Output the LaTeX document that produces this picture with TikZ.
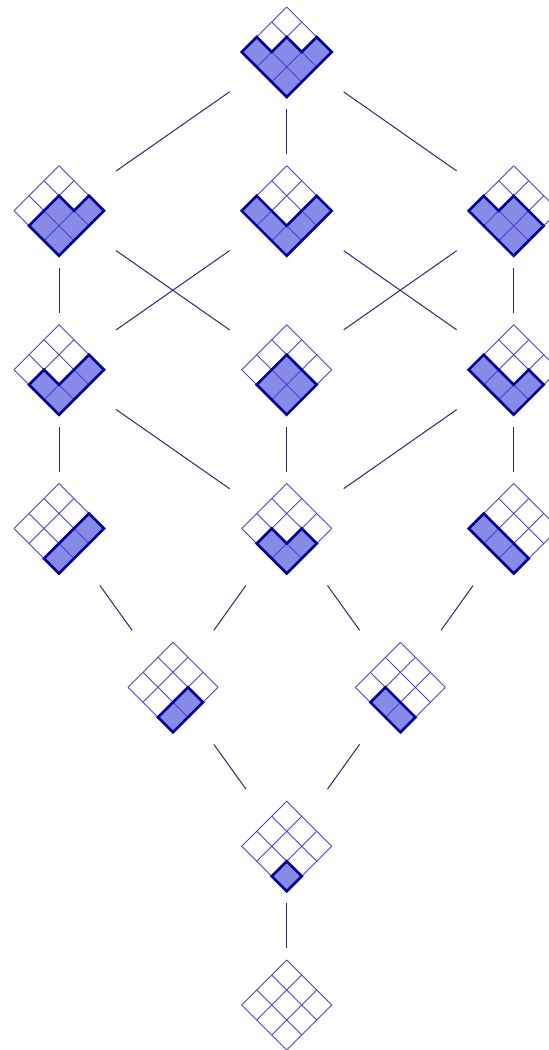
\documentclass[tikz,border=0pt]{standalone}

\definecolor{idealfill}{RGB}{136,138,232}
\definecolor{idealdraw}{RGB}{0,0,150}
\definecolor{gridblue}{RGB}{70,70,205}
\definecolor{hassecol}{RGB}{40,40,120}

\tikzset{
  box/.style={minimum size=57pt, inner sep=0pt, outer sep=0pt},
  hasse/.style={color=hassecol, line width=0.5pt},
  cellline/.style={color=gridblue, line width=0.45pt},
  idealline/.style={color=idealdraw, line width=1.3pt, line join=miter}
}

% thin 3x3 grid in cell coordinates
\newcommand{\cellgrid}{%
  \foreach \k in {0,...,3} {
    \draw[cellline] (\k,0) -- (\k,3);
    \draw[cellline] (0,\k) -- (3,\k);
  }}

% #1 node, #2 outline of the ideal in cell coordinates
\newcommand{\ideal}[2]{%
  \begin{scope}[shift={(#1)}, yshift=-22.5pt, x={(7.5pt,7.5pt)}, y={(-7.5pt,7.5pt)}]
    \fill[idealfill] #2 -- cycle;
    \cellgrid
    \draw[idealline] #2 -- cycle;
  \end{scope}}

\newcommand{\emptyideal}[1]{%
  \begin{scope}[shift={(#1)}, yshift=-22.5pt, x={(7.5pt,7.5pt)}, y={(-7.5pt,7.5pt)}]
    \cellgrid
  \end{scope}}

\begin{document}
\begin{tikzpicture}[x=0.5pt, y=0.5pt]
    \useasboundingbox (0,0) rectangle (549,-1050);

    \node[box] (n6)  at (286.7,-52)    {};
    \node[box] (n5l) at (59,-210.8)    {};
    \node[box] (n5m) at (286.7,-210.8) {};
    \node[box] (n5r) at (513.7,-210.8) {};
    \node[box] (n4l) at (59,-369.7)    {};
    \node[box] (n4m) at (286.7,-369.7) {};
    \node[box] (n4r) at (513.7,-369.7) {};
    \node[box] (n3l) at (59,-528.5)    {};
    \node[box] (n3m) at (286.7,-528.5) {};
    \node[box] (n3r) at (513.7,-528.5) {};
    \node[box] (n2l) at (173,-687.3)   {};
    \node[box] (n2r) at (400.4,-687.3) {};
    \node[box] (n1)  at (286.7,-846.2) {};
    \node[box] (n0)  at (286.7,-1005)  {};

    \ideal{n6}{(0,0) -- (3,0) -- (3,1) -- (2,1) -- (2,2) -- (1,2) -- (1,3) -- (0,3)}
    \ideal{n5l}{(0,0) -- (3,0) -- (3,1) -- (2,1) -- (2,2) -- (0,2)}
    \ideal{n5m}{(0,0) -- (3,0) -- (3,1) -- (1,1) -- (1,3) -- (0,3)}
    \ideal{n5r}{(0,0) -- (2,0) -- (2,2) -- (1,2) -- (1,3) -- (0,3)}
    \ideal{n4l}{(0,0) -- (3,0) -- (3,1) -- (1,1) -- (1,2) -- (0,2)}
    \ideal{n4m}{(0,0) -- (2,0) -- (2,2) -- (0,2)}
    \ideal{n4r}{(0,0) -- (2,0) -- (2,1) -- (1,1) -- (1,3) -- (0,3)}
    \ideal{n3l}{(0,0) -- (3,0) -- (3,1) -- (0,1)}
    \ideal{n3m}{(0,0) -- (2,0) -- (2,1) -- (1,1) -- (1,2) -- (0,2)}
    \ideal{n3r}{(0,0) -- (1,0) -- (1,3) -- (0,3)}
    \ideal{n2l}{(0,0) -- (2,0) -- (2,1) -- (0,1)}
    \ideal{n2r}{(0,0) -- (1,0) -- (1,2) -- (0,2)}
    \ideal{n1}{(0,0) -- (1,0) -- (1,1) -- (0,1)}
    \emptyideal{n0}

    \draw[hasse] (n6) -- (n5l);
    \draw[hasse] (n6) -- (n5m);
    \draw[hasse] (n6) -- (n5r);

    \draw[hasse] (n5l) -- (n4l);
    \draw[hasse] (n5l) -- (n4m);
    \draw[hasse] (n5m) -- (n4l);
    \draw[hasse] (n5m) -- (n4r);
    \draw[hasse] (n5r) -- (n4m);
    \draw[hasse] (n5r) -- (n4r);

    \draw[hasse] (n4l) -- (n3l);
    \draw[hasse] (n4l) -- (n3m);
    \draw[hasse] (n4m) -- (n3m);
    \draw[hasse] (n4r) -- (n3m);
    \draw[hasse] (n4r) -- (n3r);

    \draw[hasse] (n3l) -- (n2l);
    \draw[hasse] (n3m) -- (n2l);
    \draw[hasse] (n3m) -- (n2r);
    \draw[hasse] (n3r) -- (n2r);

    \draw[hasse] (n2l) -- (n1);
    \draw[hasse] (n2r) -- (n1);
    \draw[hasse] (n1) -- (n0);
\end{tikzpicture}
\end{document}
